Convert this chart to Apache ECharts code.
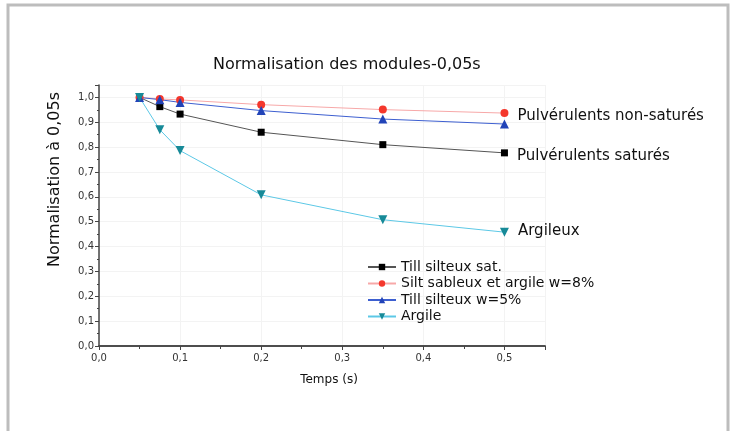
<!DOCTYPE html>
<html>
<head>
<meta charset="utf-8">
<script src="https://cdn.jsdelivr.net/npm/echarts@6/dist/echarts.min.js"></script>
<style>
  html, body { margin: 0; padding: 0; background: #fff; }
  #chart { width: 733px; height: 431px; }
</style>
</head>
<body>
<div id="chart"></div>
<script>
// temps (s)
const temps = [0.05, 0.075, 0.1, 0.2, 0.35, 0.5];

// valeurs normalisées
const tillSat = [1.0, 0.963, 0.933, 0.86, 0.81, 0.777];
const siltSableux = [1.0, 0.994, 0.99, 0.971, 0.951, 0.937];
const tillW5 = [1.0, 0.991, 0.98, 0.947, 0.913, 0.893];
const argile = [1.0, 0.87, 0.786, 0.608, 0.508, 0.458];

const seriesNames = ['Till silteux sat.', 'Silt sableux et argile w=8%', 'Till silteux w=5%', 'Argile'];
// annotations en bout de courbe
const annotations = ['Pulvérulents saturés', 'Pulvérulents non-saturés', '', 'Argileux'];
const annotOffsets = [[0, 3], [0, 3], [0, 0], [0, -1]];

const FONT = 'DejaVu Sans';

const fmt = function (v) {
    if (Math.abs(v * 10 - Math.round(v * 10)) > 1e-6) return '';
    return v.toFixed(1).replace('.', ',');
};

const pairs = function (ys, note, off) {
    return temps.map(function (t, i) {
        const item = { value: [t, ys[i]] };
        if (note && i === temps.length - 1) {
            item.label = {
                show: true,
                position: 'right',
                distance: 9,
                offset: off,
                formatter: note,
                color: '#111',
                fontSize: 15,
                fontFamily: FONT
            };
        }
        return item;
    });
};

const chart = echarts.init(document.getElementById('chart'));

const lineSeries = function (idx, ys, lineColor, markColor, symbol, size, rotate) {
    return {
        name: seriesNames[idx],
        type: 'line',
        xAxisIndex: 0,
        data: pairs(ys, annotations[idx], annotOffsets[idx]),
        symbol: symbol,
        symbolSize: size,
        symbolRotate: rotate || 0,
        lineStyle: { color: lineColor, width: 1 },
        itemStyle: { color: markColor },
        emphasis: { disabled: true },
        z: 3
    };
};

chart.setOption({
    animation: false,
    title: {
        text: 'Normalisation des modules-0,05s',
        left: 208,
        top: 52,
        textStyle: { fontSize: 16, fontWeight: 'normal', color: '#111', fontFamily: FONT }
    },
    graphic: [{
        type: 'rect',
        shape: { x: 8, y: 5, width: 720, height: 440 },
        style: { fill: 'none', stroke: '#bdbdbd', lineWidth: 3 },
        silent: true
    }],
    legend: {
        orient: 'vertical',
        left: 362,
        top: 255,
        itemWidth: 28,
        itemHeight: 8,
        itemGap: 2.5,
        data: seriesNames,
        textStyle: { fontSize: 14, color: '#111', fontFamily: FONT }
    },
    grid: { left: 99, right: 188, top: 85, bottom: 85 },
    xAxis: [{
        type: 'value',
        min: 0,
        max: 0.55,
        interval: 0.1,
        name: 'Temps (s)',
        nameLocation: 'middle',
        nameGap: 28,
        nameTextStyle: { fontSize: 12, color: '#111', fontFamily: FONT, padding: [0, 0, 0, 14] },
        axisLine: { show: true, onZero: false, lineStyle: { color: '#444', width: 1.5 } },
        axisTick: { show: true, length: 4, lineStyle: { color: '#444' } },
        minorTick: { show: true, splitNumber: 2, length: 3, lineStyle: { color: '#444' } },
        axisLabel: { formatter: fmt, color: '#333', fontSize: 10, fontFamily: FONT, margin: 7 },
        splitLine: { show: true, lineStyle: { color: '#f3f3f3' } }
    }, {
        type: 'value',
        position: 'top',
        min: 0,
        max: 0.55,
        interval: 0.1,
        axisLine: { show: true, lineStyle: { color: '#444', width: 1.5 } },
        axisTick: { show: true, inside: true, length: 4, lineStyle: { color: '#444' } },
        minorTick: { show: true, splitNumber: 2, length: 3, lineStyle: { color: '#444' } },
        axisLabel: { show: false },
        splitLine: { show: false }
    }],
    yAxis: {
        type: 'value',
        min: 0,
        max: 1.05,
        interval: 0.1,
        name: 'Normalisation à 0,05s',
        nameLocation: 'middle',
        nameGap: 36,
        nameTextStyle: { fontSize: 16, color: '#111', fontFamily: FONT, padding: [0, 0, 0, 72] },
        axisLine: { show: true, lineStyle: { color: '#444', width: 1.5 } },
        axisTick: { show: true, length: 4, lineStyle: { color: '#444' } },
        minorTick: { show: true, splitNumber: 2, length: 2, lineStyle: { color: '#444' } },
        axisLabel: { formatter: fmt, color: '#333', fontSize: 10, fontFamily: FONT, margin: 5 },
        splitLine: { show: true, lineStyle: { color: '#f3f3f3' } }
    },
    series: [
        lineSeries(0, tillSat, '#555', '#000', 'rect', 7),
        lineSeries(1, siltSableux, '#f7a8a8', '#f4372c', 'circle', 8),
        lineSeries(2, tillW5, '#3d5fd0', '#2244b8', 'triangle', 9),
        lineSeries(3, argile, '#5cc8e6', '#178a98', 'triangle', 9, 180)
    ]
});
</script>
</body>
</html>
